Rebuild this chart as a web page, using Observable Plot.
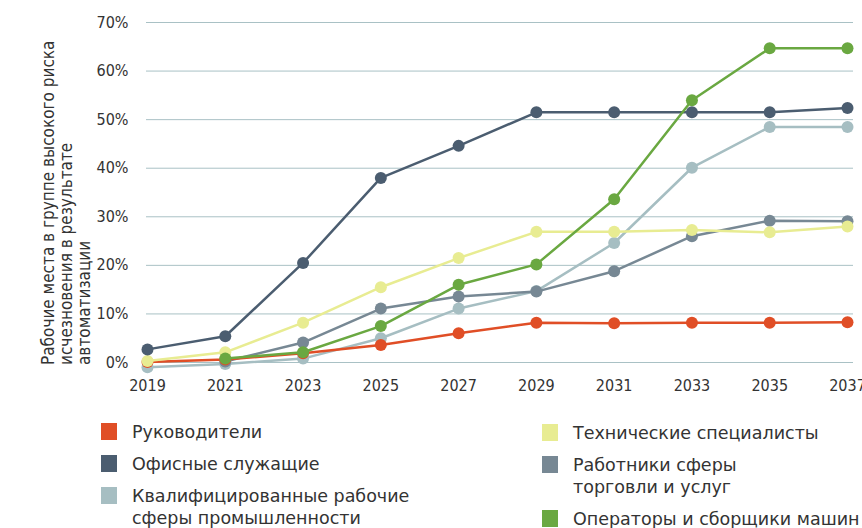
<!DOCTYPE html>
<html>
<head>
<meta charset="utf-8">
<script src="https://cdn.jsdelivr.net/npm/d3@7"></script>
<script src="https://cdn.jsdelivr.net/npm/@observablehq/plot@0.6"></script>
<style>
  html, body { margin: 0; padding: 0; background: #fff; }
  #wrap { position: relative; width: 862px; height: 528px; overflow: hidden; font-family: "DejaVu Sans Condensed", "DejaVu Sans", sans-serif; color: #333; }
  #legend { position: absolute; left: 0; top: 0; width: 862px; height: 528px; pointer-events: none; }
  .col { position: absolute; display: flex; flex-direction: column; gap: 10px; }
  .item { position: relative; padding-left: 31px; font-family: "DejaVu Sans", sans-serif; font-size: 17.5px; line-height: 22px; white-space: pre-line; }
  .sw { position: absolute; left: 0; top: 2px; width: 16px; height: 17px; }
</style>
</head>
<body>
<div id="wrap"><div id="chart"></div><div id="legend"></div></div>
<script>
// ---- data ----
const years = [2019, 2021, 2023, 2025, 2027, 2029, 2031, 2033, 2035, 2037];
const yTicks = [0, 10, 20, 30, 40, 50, 60, 70];
const seriesNames = [
  "Руководители",
  "Офисные служащие",
  "Квалифицированные рабочие сферы промышленности",
  "Технические специалисты",
  "Работники сферы торговли и услуг",
  "Операторы и сборщики машин"
];
const legendLabels = [
  "Руководители",
  "Офисные служащие",
  "Квалифицированные рабочие\nсферы промышленности",
  "Технические специалисты",
  "Работники сферы\nторговли и услуг",
  "Операторы и сборщики машин"
];
const seriesColors = ["#e04e26", "#4b5d70", "#a6bec2", "#e8ec92", "#778894", "#6aa841"];
const managers  = [0.1, 0.6, 1.9, 3.6, 6.0, 8.2, 8.1, 8.2, 8.2, 8.3];
const office    = [2.7, 5.4, 20.5, 38.0, 44.6, 51.5, 51.5, 51.5, 51.5, 52.4];
const skilled   = [-1.0, -0.3, 0.8, 5.0, 11.1, 14.7, 24.6, 40.1, 48.5, 48.5];
const technical = [0.3, 2.1, 8.2, 15.5, 21.5, 26.9, 26.9, 27.3, 26.8, 28.0];
const trade     = [null, 0.2, 4.1, 11.1, 13.6, 14.6, 18.8, 26.0, 29.2, 29.1];
const operators = [null, 0.8, 2.1, 7.5, 16.0, 20.2, 33.6, 54.0, 64.7, 64.7];
const seriesValues = [managers, office, skilled, technical, trade, operators];
const drawOrder = [2, 4, 0, 3, 1, 5];
const yTitleLines = ["Рабочие места в группе высокого риска", "исчезновения в результате", "автоматизации"];

// ---- build ----
const rowsFor = (k) => years.map((yr, i) => ({year: yr, value: seriesValues[k][i], series: seriesNames[k]}))
  .filter(d => d.value != null);

const marks = [
  Plot.ruleY(yTicks, {stroke: "#a9c1c5", strokeWidth: 1, insetLeft: -1, insetRight: -6})
];
for (const k of drawOrder) {
  const rows = rowsFor(k);
  marks.push(Plot.line(rows, {x: "year", y: "value", stroke: "series", strokeWidth: 2.5}));
  marks.push(Plot.dot(rows, {x: "year", y: "value", fill: "series", r: 6}));
}

const chart = Plot.plot({
  width: 862, height: 400,
  marginLeft: 147, marginRight: 15, marginTop: 22, marginBottom: 38,
  style: {fontFamily: "'DejaVu Sans Condensed', 'DejaVu Sans', sans-serif", fontSize: "16px", color: "#333", background: "transparent", overflow: "visible"},
  x: {domain: [2019, 2037], ticks: years, tickFormat: d => String(d), tickSize: 0, tickPadding: 17, label: null},
  y: {domain: [0, 70], ticks: yTicks, tickFormat: d => d + "%", tickSize: 0, tickPadding: 19, label: null},
  color: {domain: seriesNames, range: seriesColors},
  marks
});
document.getElementById("chart").appendChild(chart);

// y-axis title (three lines, rotated)
const t = d3.select(chart).append("text")
  .attr("transform", "translate(54,365) rotate(-90)")
  .attr("text-anchor", "start")
  .attr("fill", "#333")
  .style("font-size", "17px");
yTitleLines.forEach((line, i) => {
  t.append("tspan").attr("x", 0).attr("dy", i === 0 ? 0 : 18).text(line);
});

// legend
const legend = d3.select("#legend");
const cols = [
  {left: 101, top: 421, items: [0, 1, 2]},
  {left: 542, top: 422, items: [3, 4, 5]}
];
cols.forEach(c => {
  const col = legend.append("div").attr("class", "col").style("left", c.left + "px").style("top", c.top + "px");
  c.items.forEach(k => {
    const it = col.append("div").attr("class", "item");
    it.append("span").attr("class", "sw").style("background", seriesColors[k]);
    it.append("span").text(legendLabels[k]);
  });
});
</script>
</body>
</html>
